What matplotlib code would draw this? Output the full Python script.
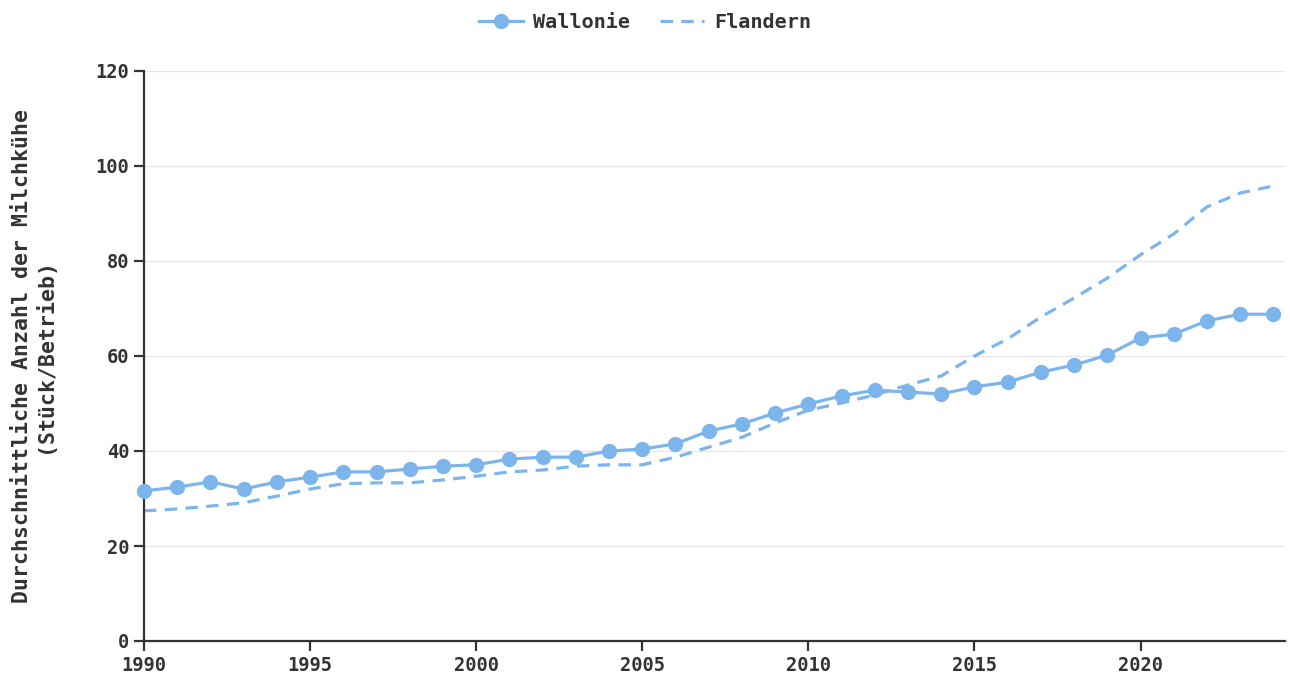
import matplotlib.pyplot as plt

years = list(range(1990, 2025))

wallonie = [31.6, 32.4, 33.5, 32.0, 33.5, 34.5, 35.6, 35.6, 36.2, 36.8,
            37.1, 38.3, 38.7, 38.7, 40.0, 40.4, 41.5, 44.2, 45.7, 48.0,
            49.9, 51.6, 52.8, 52.4, 52.0, 53.5, 54.5, 56.6, 58.1, 60.2,
            63.8, 64.6, 67.4, 68.8, 68.8]

flandern = [27.4, 27.8, 28.4, 29.1, 30.5, 32.0, 33.1, 33.3, 33.3, 33.9,
            34.7, 35.6, 36.0, 36.8, 37.1, 37.1, 38.7, 40.8, 42.9, 45.9,
            48.6, 50.1, 51.8, 53.9, 55.8, 60.0, 63.6, 68.2, 72.2, 76.4,
            81.3, 85.7, 91.4, 94.3, 95.8]

x_ticks = [1990, 1995, 2000, 2005, 2010, 2015, 2020]
y_ticks = [0, 20, 40, 60, 80, 100, 120]

blue = "#7cb5ec"
dark = "#333333"

plt.rcParams["font.family"] = ["DejaVu Sans Mono"]
plt.rcParams["font.weight"] = "bold"

fig = plt.figure(figsize=(12.9, 6.82), dpi=100)
ax = fig.add_axes([144 / 1290, 41 / 682, (1285 - 144) / 1290, (641 - 71) / 682])

ax.plot(years, wallonie, color=blue, linewidth=2.3, marker="o",
        markersize=10, label="Wallonie", clip_on=False, zorder=3)
fl, = ax.plot(years, flandern, color=blue, linewidth=2.3, linestyle="--",
              label="Flandern", clip_on=False, zorder=2)
fl.set_dashes([3.9, 2.6])

ax.set_xlim(1990, 2024.35)
ax.set_ylim(0, 120)
ax.set_xticks(x_ticks)
ax.set_yticks(y_ticks)

ax.grid(axis="y", color="#e6e6e6", linewidth=1)
ax.set_axisbelow(True)

for s in ["top", "right"]:
    ax.spines[s].set_visible(False)
for s in ["left", "bottom"]:
    ax.spines[s].set_color(dark)
    ax.spines[s].set_linewidth(1.6)

ax.tick_params(axis="both", colors=dark, length=7, width=1.6,
               labelsize=13.5, labelcolor=dark)
for lab in ax.get_xticklabels() + ax.get_yticklabels():
    lab.set_fontweight("bold")

ax.set_ylabel("Durchschnittliche Anzahl der Milchkühe\n(Stück/Betrieb)",
              fontsize=15.5, fontweight="bold", color=dark, labelpad=29,
              linespacing=1.15)

leg = fig.legend(loc="upper center", bbox_to_anchor=(0.5, 1.007), ncol=2,
                 frameon=False, fontsize=14.5, handlelength=2.2,
                 columnspacing=1.5, handletextpad=0.5)
for t in leg.get_texts():
    t.set_color(dark)
    t.set_fontweight("bold")

fig.savefig("out.png", dpi=100)
